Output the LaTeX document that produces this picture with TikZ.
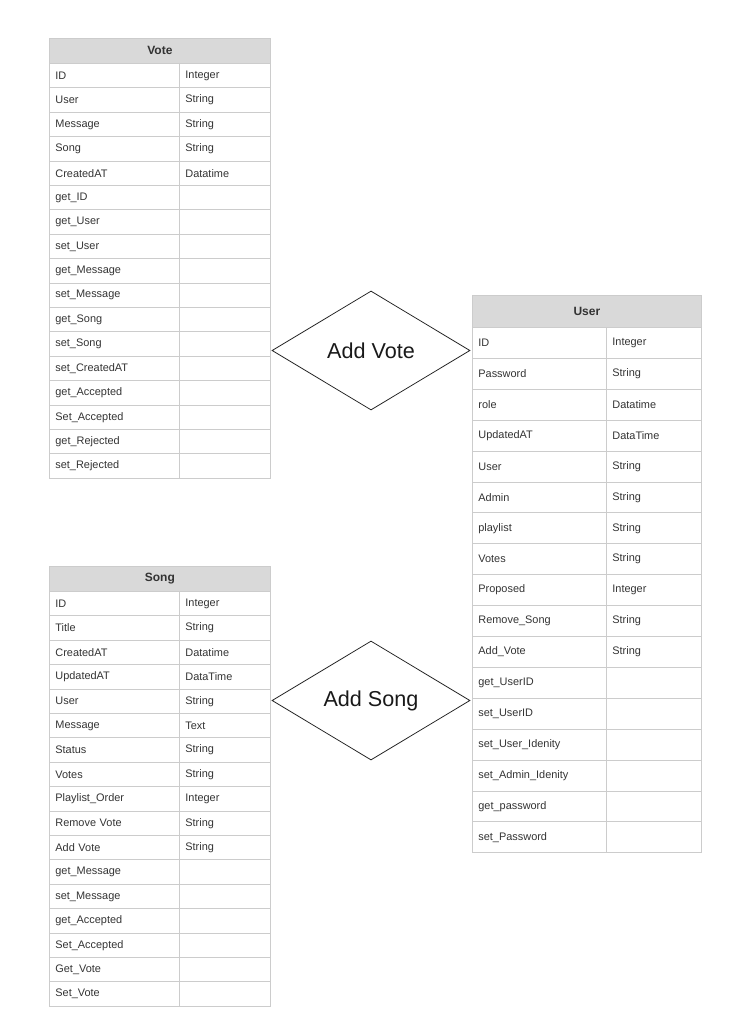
\documentclass[tikz,border=0pt]{standalone}
\usepackage{fontspec}
\setmainfont{Liberation Sans}
\usepackage{xcolor}
\usetikzlibrary{shapes.geometric}

\definecolor{gridc}{HTML}{CCCCCC}
\definecolor{hdrc}{HTML}{D9D9D9}
\definecolor{txtc}{HTML}{333333}

\begin{document}
\begin{tikzpicture}[
  x=0.75pt, y=-0.75pt,
  every node/.style={font=\fontsize{8.2}{10}\selectfont, text=txtc},
  box/.style={draw=gridc, line width=0.6pt, rectangle, inner sep=0pt, anchor=north west},
  hdr/.style={box, fill=hdrc, font=\fontsize{9}{11}\selectfont\bfseries, text=txtc},
  vcol1/.style={box, minimum width=97.5pt, minimum height=18.3pt, text width=88.5pt, align=left, inner xsep=4.5pt},
  vcol2/.style={box, minimum width=68.25pt, minimum height=18.3pt, text width=59.25pt, align=left, inner xsep=4.5pt},
  ucol1/.style={box, minimum width=100.5pt, minimum height=23.175pt, text width=91.5pt, align=left, inner xsep=4.5pt},
  ucol2/.style={box, minimum width=71.25pt, minimum height=23.175pt, text width=62.25pt, align=left, inner xsep=4.5pt},
  rel/.style={diamond, draw=black!85, line width=0.6pt, inner sep=0pt, minimum width=148.5pt, minimum height=89.25pt, font=\fontsize{16.2}{19}\selectfont, text=black!90}
]
\useasboundingbox (0,0) rectangle (751,1023);

% Vote table
\node[hdr, minimum width=165.75pt, minimum height=18.75pt] (vote) at (49,38) {Vote};
\foreach \fld/\typ [count=\i] in {ID/Integer, User/String, Message/String, Song/String,
    CreatedAT/Datatime, get\_ID/, get\_User/, set\_User/, get\_Message/, set\_Message/,
    get\_Song/, set\_Song/, set\_CreatedAT/, get\_Accepted/, Set\_Accepted/,
    get\_Rejected/, set\_Rejected/} {
  \node[vcol1] (vote-f\i) at (49,{63+(\i-1)*24.4}) {\fld};
  \node[vcol2] (vote-t\i) at (179,{63+(\i-1)*24.4}) {\typ};
}

% Song table
\node[hdr, minimum width=165.75pt, minimum height=18.75pt] (song) at (49,566) {Song};
\foreach \fld/\typ [count=\i] in {ID/Integer, Title/String, CreatedAT/Datatime,
    UpdatedAT/DataTime, User/String, Message/Text, Status/String, Votes/String,
    Playlist\_Order/Integer, Remove Vote/String, Add Vote/String, get\_Message/,
    set\_Message/, get\_Accepted/, Set\_Accepted/, Get\_Vote/, Set\_Vote/} {
  \node[vcol1] (song-f\i) at (49,{591+(\i-1)*24.4}) {\fld};
  \node[vcol2] (song-t\i) at (179,{591+(\i-1)*24.4}) {\typ};
}

% User table
\node[hdr, minimum width=171.75pt, minimum height=24pt] (user) at (472,295) {User};
\foreach \fld/\typ [count=\i] in {ID/Integer, Password/String, role/Datatime,
    UpdatedAT/DataTime, User/String, Admin/String, playlist/String, Votes/String,
    Proposed/Integer, Remove\_Song/String, Add\_Vote/String, get\_UserID/,
    set\_UserID/, set\_User\_Idenity/, set\_Admin\_Idenity/, get\_password/,
    set\_Password/} {
  \node[ucol1] (user-f\i) at (472,{327+(\i-1)*30.9}) {\fld};
  \node[ucol2] (user-t\i) at (606,{327+(\i-1)*30.9}) {\typ};
}

% relations
\node[rel] (addvote) at (371,350.5) {Add Vote};
\node[rel] (addsong) at (371,700.5) {Add Song};

\end{tikzpicture}
\end{document}
